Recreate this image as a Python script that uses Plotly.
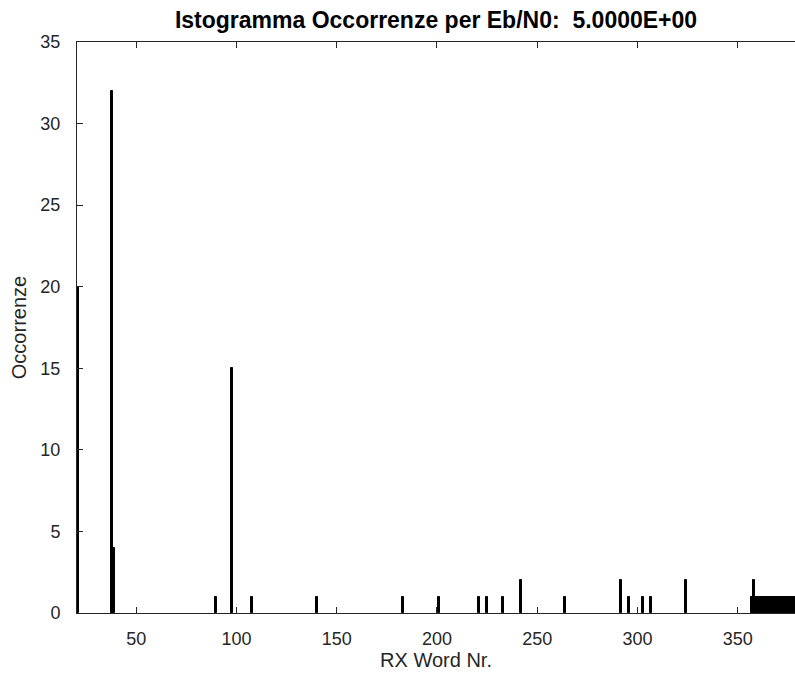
import plotly.graph_objects as go

# Received word index and how many times each one occurred
word_nr = [21, 38, 39, 90, 98, 108, 140, 183, 201, 221, 225, 233, 242, 264,
           292, 296, 303, 307, 324, 357, 358,
           359, 360, 361, 362, 363, 364, 365, 366, 367, 368, 369,
           370, 371, 372, 373, 374, 375, 376, 377, 378, 379, 380]
occorrenze = [20, 32, 4, 1, 15, 1, 1, 1, 1, 1, 1, 1, 2, 1,
              2, 1, 1, 1, 2, 1, 2,
              1, 1, 1, 1, 1, 1, 1, 1, 1, 1, 1,
              1, 1, 1, 1, 1, 1, 1, 1, 1, 1, 1]

x_ticks = [50, 100, 150, 200, 250, 300, 350]
y_ticks = [0, 5, 10, 15, 20, 25, 30, 35]

axis_color = "#262626"
font_family = "Liberation Sans, Arial, Helvetica, sans-serif"

fig = go.Figure()
fig.add_trace(go.Bar(
    x=word_nr,
    y=occorrenze,
    width=[1] * len(word_nr),
    marker=dict(color="black", line=dict(color="black", width=1)),
    showlegend=False,
    hoverinfo="x+y",
))

fig.update_layout(
    width=795,
    height=686,
    margin=dict(l=77, r=0, t=42, b=73),
    paper_bgcolor="white",
    plot_bgcolor="white",
    font=dict(family=font_family, color=axis_color, size=18),
    title=dict(
        text="<b>Istogramma Occorrenze per Eb/N0:  5.0000E+00</b>",
        x=0.5, xanchor="center", xref="paper",
        y=1 - 20 / 686, yanchor="middle",
        font=dict(family=font_family, size=23, color="black"),
    ),
    xaxis=dict(
        range=[20.5, 378.6],
        tickvals=x_ticks,
        ticks="inside",
        ticklen=6,
        tickcolor=axis_color,
        showline=True,
        linecolor=axis_color,
        linewidth=1,
        mirror="ticks",
        showgrid=False,
        zeroline=False,
        tickfont=dict(size=18),
        ticklabelstandoff=9,
        title=dict(text="RX Word Nr.", font=dict(size=20), standoff=2),
    ),
    yaxis=dict(
        range=[0, 35],
        tickvals=y_ticks,
        ticks="inside",
        ticklen=6,
        tickcolor=axis_color,
        showline=True,
        linecolor=axis_color,
        linewidth=1,
        mirror=False,
        showgrid=False,
        zeroline=False,
        tickfont=dict(size=18),
        ticklabelstandoff=12,
        title=dict(text="Occorrenze", font=dict(size=20), standoff=8),
    ),
    yaxis2=dict(
        range=[0, 35],
        tickvals=y_ticks,
        overlaying="y",
        side="right",
        ticks="inside",
        ticklen=3,
        tickcolor=axis_color,
        showticklabels=False,
        showline=False,
        showgrid=False,
        zeroline=False,
    ),
    bargap=0,
)

fig.write_html("out.html")
